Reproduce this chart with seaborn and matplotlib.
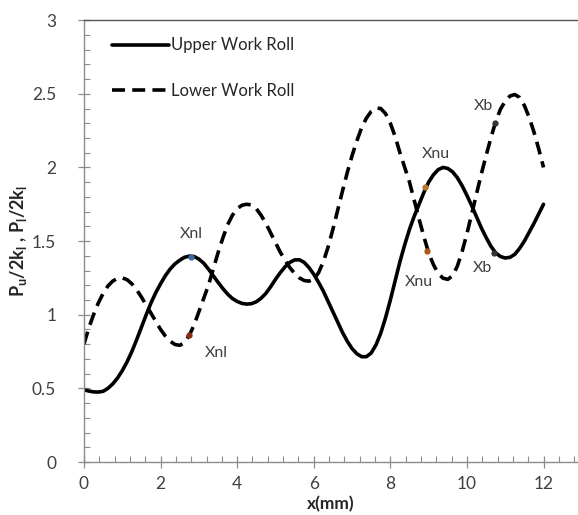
import numpy as np
import pandas as pd
import matplotlib
matplotlib.use("Agg")
import matplotlib.pyplot as plt
import seaborn as sns

# Normalised roll pressure along the contact arc, sampled every 0.125 mm
x_mm = np.arange(0, 12.0001, 0.125)

upper_roll = [
    0.490, 0.482, 0.476, 0.475, 0.480, 0.500, 0.530, 0.570,
    0.620, 0.680, 0.750, 0.830, 0.915, 1.000, 1.080, 1.150,
    1.210, 1.265, 1.310, 1.345, 1.370, 1.390, 1.398, 1.395,
    1.378, 1.350, 1.310, 1.265, 1.220, 1.178, 1.140, 1.110,
    1.090, 1.077, 1.072, 1.075, 1.088, 1.112, 1.145, 1.190,
    1.240, 1.285, 1.325, 1.355, 1.372, 1.373, 1.355, 1.320,
    1.275, 1.220, 1.160, 1.090, 1.020, 0.950, 0.880, 0.820,
    0.770, 0.735, 0.715, 0.715, 0.740, 0.795, 0.875, 0.980,
    1.100, 1.230, 1.360, 1.475, 1.580, 1.670, 1.750, 1.830,
    1.900, 1.950, 1.985, 2.000, 1.993, 1.970, 1.930, 1.875,
    1.810, 1.740, 1.665, 1.590, 1.525, 1.465, 1.420, 1.395,
    1.385, 1.390, 1.410, 1.450, 1.500, 1.560, 1.620, 1.685,
    1.750,
]

lower_roll = [
    0.800, 0.910, 1.000, 1.080, 1.145, 1.195, 1.228, 1.247,
    1.250, 1.238, 1.210, 1.170, 1.120, 1.065, 1.010, 0.955,
    0.900, 0.855, 0.820, 0.798, 0.792, 0.810, 0.860, 0.930,
    1.020, 1.110, 1.200, 1.310, 1.420, 1.520, 1.610, 1.675,
    1.720, 1.743, 1.750, 1.745, 1.720, 1.675, 1.620, 1.555,
    1.490, 1.425, 1.370, 1.320, 1.280, 1.250, 1.232, 1.228,
    1.240, 1.285, 1.360, 1.460, 1.580, 1.710, 1.840, 1.965,
    2.080, 2.180, 2.270, 2.335, 2.380, 2.403, 2.400, 2.365,
    2.300, 2.210, 2.100, 2.000, 1.900, 1.775, 1.650, 1.530,
    1.420, 1.340, 1.280, 1.248, 1.240, 1.265, 1.330, 1.430,
    1.550, 1.685, 1.820, 1.955, 2.080, 2.200, 2.310, 2.395,
    2.450, 2.485, 2.495, 2.475, 2.420, 2.340, 2.240, 2.125,
    2.000,
]

# Characteristic points (neutral points and bite exit) on each curve
pt_names = ["Xnl", "Xnl", "Xnu", "Xnu", "Xb", "Xb"]
pt_x = [2.8, 2.75, 8.9, 8.95, 10.7, 10.73]
pt_y = [1.395, 0.86, 1.87, 1.43, 1.42, 2.30]
pt_colors = ["#3a6aa0", "#8b2e16", "#b87a2a", "#b0561e", "#333333", "#333333"]

# Label positions for the characteristic points
lbl_x = [2.8, 3.45, 9.2, 8.75, 10.4, 10.42]
lbl_y = [1.55, 0.74, 2.09, 1.22, 1.32, 2.42]

df = pd.DataFrame({
    "x": np.concatenate([x_mm, x_mm]),
    "p": upper_roll + lower_roll,
    "roll": ["Upper Work Roll"] * len(x_mm) + ["Lower Work Roll"] * len(x_mm),
})

sns.set_style("white")
plt.rcParams["font.family"] = ["Lato", "DejaVu Sans"]
plt.rcParams["mathtext.default"] = "regular"

fig = plt.figure(figsize=(5.78, 5.15), dpi=100)
ax = fig.add_axes([0.1453, 0.1029, 0.8547, 0.858])

sns.lineplot(data=df, x="x", y="p", style="roll",
             dashes={"Upper Work Roll": "", "Lower Work Roll": (3.6, 2.0)},
             color="black", linewidth=2.6, ax=ax, sort=False)

for px, py, c in zip(pt_x, pt_y, pt_colors):
    ax.plot(px, py, "o", ms=3.5, color=c, zorder=5)
for name, lx, ly in zip(pt_names, lbl_x, lbl_y):
    ax.text(lx, ly, name, ha="center", va="center", fontsize=11.5,
            color="#404040")

ax.set_xlim(0, 12.9)
ax.set_ylim(0, 3)
ax.set_xticks([0, 2, 4, 6, 8, 10, 12])
ax.set_yticks([0, 0.5, 1, 1.5, 2, 2.5, 3])
ax.set_yticklabels(["0", "0.5", "1", "1.5", "2", "2.5", "3"])
ax.set_xticks(np.arange(0, 12.9, 0.4), minor=True)
ax.set_yticks(np.arange(0, 3.0, 0.1), minor=True)

axis_gray = "#8c8c8c"
ax.tick_params(axis="both", which="major", direction="inout", length=8,
               width=0.9, color=axis_gray, labelsize=12.5,
               labelcolor="#404040")
ax.tick_params(axis="x", which="major", pad=6)
ax.tick_params(axis="y", which="major", pad=16)
ax.tick_params(axis="both", which="minor", direction="in", length=4,
               width=0.8, color=axis_gray)
ax.tick_params(axis="x", which="both", bottom=True)
ax.tick_params(axis="y", which="both", left=True)

for side in ["left", "bottom"]:
    ax.spines[side].set_color(axis_gray)
    ax.spines[side].set_linewidth(1.0)
ax.spines["top"].set_color("#555555")
ax.spines["top"].set_linewidth(1.0)
ax.spines["right"].set_visible(False)

ax.set_xlabel("x(mm)", fontsize=12.5, fontweight="bold", labelpad=3)
ax.set_ylabel("P$_u$/2k$_l$ , P$_l$/2k$_l$",
              fontsize=13, fontweight="bold", labelpad=2)

leg = ax.legend(loc="upper left", bbox_to_anchor=(0.027, 0.995),
                frameon=False, handlelength=3.4, handletextpad=0.15,
                labelspacing=1.75, fontsize=12)
for t in leg.get_texts():
    t.set_color("#262626")

fig.savefig("out.png", dpi=100)
